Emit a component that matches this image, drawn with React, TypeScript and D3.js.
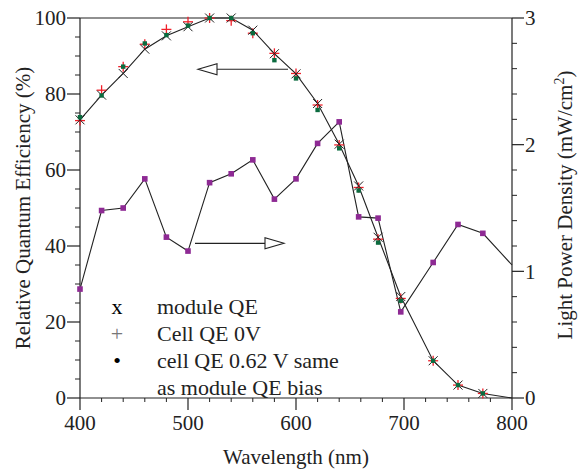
import React from 'react';
import * as d3 from 'd3';

// wavelengths (nm) where QE was measured
const qeWavelengths = [400, 420, 440, 460, 480, 500, 520, 540, 560, 580, 600, 620, 640, 658, 676, 697, 727, 750, 773];
const moduleQE = [73.2, 79.7, 85.4, 91.8, 95.3, 97.7, 100, 100, 96.8, 90.6, 85.3, 77.5, 66.8, 55.8, 42.3, 26.7, 9.8, 3.4, 1.2];
const cellQE0V = [73, 81, 87.2, 93.1, 97, 99, 100, 99.3, 96, 90.7, 85.4, 77.1, 66.6, 55.4, 41.8, 26.2, 9.8, 3.4, 1.2];
const cellQE062V = [73.9, 79.6, 87.2, 93.3, 95.5, 98, 100, 100, 96, 88.9, 84.1, 75.8, 65.7, 54.6, 40.9, 25.6, 9.8, 3.4, 1.2];
// module line runs on to the corner
const moduleTail = { wl: 800, qe: 0 };

// light power density (mW/cm2)
const powerWavelengths = [400, 420, 440, 460, 480, 500, 520, 540, 560, 580, 600, 620, 640, 658, 676, 697, 727, 750, 773, 800];
const powerDensity = [0.86, 1.48, 1.5, 1.73, 1.27, 1.16, 1.7, 1.77, 1.88, 1.57, 1.73, 2.01, 2.18, 1.43, 1.42, 0.68, 1.07, 1.37, 1.3, 1.05];

const xTicks = [400, 500, 600, 700, 800];
const yLeftTicks = [0, 20, 40, 60, 80, 100];
const yRightTicks = [0, 1, 2, 3];

const legendItems = [
  { symbol: 'x', label: 'module QE', color: '#000' },
  { symbol: '+', label: 'Cell QE 0V', color: '#777' },
  { symbol: '•', label: 'cell QE 0.62 V same', color: '#000' },
  { symbol: '', label: 'as module QE bias', color: '#000' },
];

const W = 583;
const H = 472;
const margin = { top: 18, right: 71, bottom: 74, left: 80 };
const FONT = "'Liberation Serif', 'Times New Roman', Times, serif";
const PURPLE = '#8e2a94';
const GREEN = '#0b6b3f';
const RED = '#f0202a';
const txt: React.CSSProperties = { fontFamily: FONT };

const App: React.FC = () => {
  const x = d3.scaleLinear().domain([400, 800]).range([margin.left, W - margin.right]);
  const yL = d3.scaleLinear().domain([0, 100]).range([H - margin.bottom, margin.top]);
  const yR = d3.scaleLinear().domain([0, 3]).range([H - margin.bottom, margin.top]);

  const x0 = x(400);
  const x1 = x(800);
  const yb = yL(0);
  const yt = yL(100);

  const xMinor = d3.range(400, 801, 20).filter((v) => v % 100 !== 0);
  const yLMinor = d3.range(0, 101, 5).filter((v) => v % 20 !== 0);
  const yRMinor = d3.range(0, 3.01, 0.2).map((v) => +v.toFixed(1)).filter((v) => Math.abs(v - Math.round(v)) > 1e-6);

  const line = d3.line<[number, number]>();
  const modulePts: [number, number][] = qeWavelengths.map((w, i) => [x(w), yL(moduleQE[i])]);
  modulePts.push([x(moduleTail.wl), yL(moduleTail.qe)]);
  const powerPts: [number, number][] = powerWavelengths.map((w, i) => [x(w), yR(powerDensity[i])]);

  // arrows pointing at the axis each curve belongs to
  const leftArrowY = yL(86.5);
  const rightArrowY = yL(40.7);

  return (
    <div style={{ position: 'absolute', left: 0, top: 0 }}>
      <svg width={W} height={H} style={{ display: 'block', background: '#fff' }}>
        {/* frame */}
        <line x1={x0} x2={x1} y1={yt} y2={yt} stroke="#222" strokeWidth={1.2} />
        <line x1={x0} x2={x1} y1={yb} y2={yb} stroke="#222" strokeWidth={1.2} />
        <line x1={x0} x2={x0} y1={yt} y2={yb} stroke="#222" strokeWidth={1.2} />
        <line x1={x1} x2={x1} y1={yt} y2={yb} stroke="#222" strokeWidth={1.2} />

        {/* bottom axis */}
        {xTicks.map((t) => (
          <g key={'xt' + t}>
            <line x1={x(t)} x2={x(t)} y1={yb} y2={yb + 12} stroke="#222" strokeWidth={1.2} />
            <text style={txt} x={x(t)} y={yb + 32} textAnchor="middle" fontSize={21} fill="#222">{t}</text>
          </g>
        ))}
        {xMinor.map((t) => (
          <line key={'xm' + t} x1={x(t)} x2={x(t)} y1={yb} y2={yb + 4} stroke="#222" strokeWidth={1} />
        ))}
        <text style={txt} x={(x0 + x1) / 2} y={H - 8} textAnchor="middle" fontSize={21} fill="#222">Wavelength (nm)</text>

        {/* left axis */}
        {yLeftTicks.map((t) => (
          <g key={'yl' + t}>
            <line x1={x0 - 13} x2={x0} y1={yL(t)} y2={yL(t)} stroke="#222" strokeWidth={1.2} />
            <text style={txt} x={x0 - 14} y={yL(t)} dy="0.35em" textAnchor="end" fontSize={21} fill="#222">{t}</text>
          </g>
        ))}
        {yLMinor.map((t) => (
          <line key={'ylm' + t} x1={x0 - 5} x2={x0} y1={yL(t)} y2={yL(t)} stroke="#222" strokeWidth={1} />
        ))}
        <text style={txt} transform={`translate(30,${(yt + yb) / 2}) rotate(-90)`} textAnchor="middle" fontSize={21} fill="#222">
          Relative Quantum Efficiency (%)
        </text>

        {/* right axis */}
        {yRightTicks.map((t) => (
          <g key={'yr' + t}>
            <line x1={x1} x2={x1 + 12} y1={yR(t)} y2={yR(t)} stroke="#222" strokeWidth={1.2} />
            <text style={txt} x={x1 + 13} y={yR(t)} dy="0.35em" textAnchor="start" fontSize={21} fill="#222">{t}</text>
          </g>
        ))}
        {yRMinor.map((t) => (
          <line key={'yrm' + t} x1={x1} x2={x1 + 5} y1={yR(t)} y2={yR(t)} stroke="#222" strokeWidth={1} />
        ))}
        <text style={txt} transform={`translate(572,${(yt + yb) / 2 - 3}) rotate(-90)`} textAnchor="middle" fontSize={21} fill="#222">
          Light Power Density (mW/cm<tspan fontSize={14} dy={-8}>2</tspan><tspan dy={8}>)</tspan>
        </text>

        {/* light power density */}
        <path d={line(powerPts) || ''} fill="none" stroke="#222" strokeWidth={1.1} />
        {powerPts.slice(0, -1).map(([px, py], i) => (
          <rect key={'pw' + i} x={px - 2.8} y={py - 2.8} width={5.6} height={5.6} fill={PURPLE} />
        ))}

        {/* module QE line */}
        <path d={line(modulePts) || ''} fill="none" stroke="#222" strokeWidth={1.1} />

        {/* cell QE 0V */}
        {qeWavelengths.map((w, i) => {
          const cx = x(w);
          const cy = yL(cellQE0V[i]);
          return (
            <g key={'c0' + i} stroke={RED} strokeWidth={1.3}>
              <line x1={cx - 5} x2={cx + 5} y1={cy} y2={cy} />
              <line x1={cx} x2={cx} y1={cy - 5} y2={cy + 5} />
            </g>
          );
        })}

        {/* module QE markers */}
        {qeWavelengths.map((w, i) => {
          const cx = x(w);
          const cy = yL(moduleQE[i]);
          return (
            <g key={'m' + i} stroke="#222" strokeWidth={1}>
              <line x1={cx - 4.5} x2={cx + 4.5} y1={cy - 4.5} y2={cy + 4.5} />
              <line x1={cx - 4.5} x2={cx + 4.5} y1={cy + 4.5} y2={cy - 4.5} />
            </g>
          );
        })}

        {/* cell QE 0.62 V */}
        {qeWavelengths.map((w, i) => (
          <rect key={'c6' + i} x={x(w) - 2.2} y={yL(cellQE062V[i]) - 2.2} width={4.4} height={4.4} fill={GREEN} />
        ))}

        {/* arrows */}
        <line x1={217} x2={288} y1={leftArrowY} y2={leftArrowY} stroke="#222" strokeWidth={1.1} />
        <path d={`M198,${leftArrowY} L217,${leftArrowY - 5.5} L217,${leftArrowY + 5.5} Z`} fill="#fff" stroke="#222" strokeWidth={1.1} />
        <line x1={195} x2={265} y1={rightArrowY} y2={rightArrowY} stroke="#222" strokeWidth={1.1} />
        <path d={`M284,${rightArrowY} L265,${rightArrowY - 5.5} L265,${rightArrowY + 5.5} Z`} fill="#fff" stroke="#222" strokeWidth={1.1} />

        {/* legend */}
        {legendItems.map((d, i) => (
          <g key={'lg' + i}>
            <text style={txt} x={117} y={314 + i * 27} textAnchor="middle" fontSize={22} fill={d.color}>{d.symbol}</text>
            <text style={txt} x={157} y={314 + i * 27} fontSize={22} fill="#222">{d.label}</text>
          </g>
        ))}
      </svg>
    </div>
  );
};

export default App;
